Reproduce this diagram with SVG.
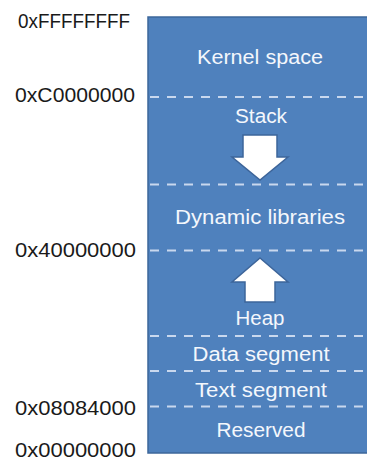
<svg xmlns="http://www.w3.org/2000/svg" width="367" height="461" viewBox="0 0 367 461">
  <style>
    .addr { font-family: "Liberation Sans", Arial, sans-serif; font-size: 19.5px; fill: #1a1a1a; }
    .seg { font-family: "Liberation Sans", Arial, sans-serif; font-size: 20px; fill: #f4f7fc; text-anchor: middle; }
    .divider { stroke: #c9d8ee; stroke-width: 2; stroke-dasharray: 9 8; fill: none; }
    .arrow { fill: #ffffff; stroke: #3d659a; stroke-width: 1.5; stroke-linejoin: miter; }
  </style>

  <rect width="367" height="461" fill="#ffffff"/>

  <!-- address space block -->
  <g id="memory-block">
    <rect x="148" y="17" width="230" height="436" fill="#4f81bd" stroke="#3c679b" stroke-width="1.5"/>
  </g>

  <!-- segment boundaries -->
  <g id="connectors">
    <line class="divider" x1="150" y1="97" x2="367" y2="97"/>
    <line class="divider" x1="150" y1="184.5" x2="367" y2="184.5"/>
    <line class="divider" x1="150" y1="250.5" x2="367" y2="250.5"/>
    <line class="divider" x1="150" y1="336" x2="367" y2="336"/>
    <line class="divider" x1="150" y1="371" x2="367" y2="371"/>
    <line class="divider" x1="150" y1="406.5" x2="367" y2="406.5"/>
  </g>

  <!-- growth arrows -->
  <g id="stack-arrow">
    <polygon class="arrow" points="243,135 277,135 277,157 288,157 260,180 232,157 243,157"/>
  </g>
  <g id="heap-arrow">
    <polygon class="arrow" points="260,258 288,282 275,282 275,302 245,302 245,282 232,282"/>
  </g>

  <!-- segment names -->
  <g id="kernel-space"><text class="seg" x="260" y="64" textLength="126" lengthAdjust="spacingAndGlyphs">Kernel space</text></g>
  <g id="stack"><text class="seg" x="261" y="123" textLength="52" lengthAdjust="spacingAndGlyphs">Stack</text></g>
  <g id="dynamic-libraries"><text class="seg" x="260" y="224" textLength="170" lengthAdjust="spacingAndGlyphs">Dynamic libraries</text></g>
  <g id="heap"><text class="seg" x="260" y="325" textLength="49" lengthAdjust="spacingAndGlyphs">Heap</text></g>
  <g id="data-segment"><text class="seg" x="261" y="361" textLength="137" lengthAdjust="spacingAndGlyphs">Data segment</text></g>
  <g id="text-segment"><text class="seg" x="261" y="397" textLength="132" lengthAdjust="spacingAndGlyphs">Text segment</text></g>
  <g id="reserved"><text class="seg" x="261" y="437" textLength="89" lengthAdjust="spacingAndGlyphs">Reserved</text></g>

  <!-- boundary addresses -->
  <g id="addr-ffffffff"><text class="addr" x="18" y="28" textLength="112" lengthAdjust="spacingAndGlyphs">0xFFFFFFFF</text></g>
  <g id="addr-c0000000"><text class="addr" x="15" y="102" textLength="120" lengthAdjust="spacingAndGlyphs">0xC0000000</text></g>
  <g id="addr-40000000"><text class="addr" x="15" y="257" textLength="121" lengthAdjust="spacingAndGlyphs">0x40000000</text></g>
  <g id="addr-08084000"><text class="addr" x="15" y="415" textLength="121" lengthAdjust="spacingAndGlyphs">0x08084000</text></g>
  <g id="addr-00000000"><text class="addr" x="15" y="457" textLength="121" lengthAdjust="spacingAndGlyphs">0x00000000</text></g>
</svg>
